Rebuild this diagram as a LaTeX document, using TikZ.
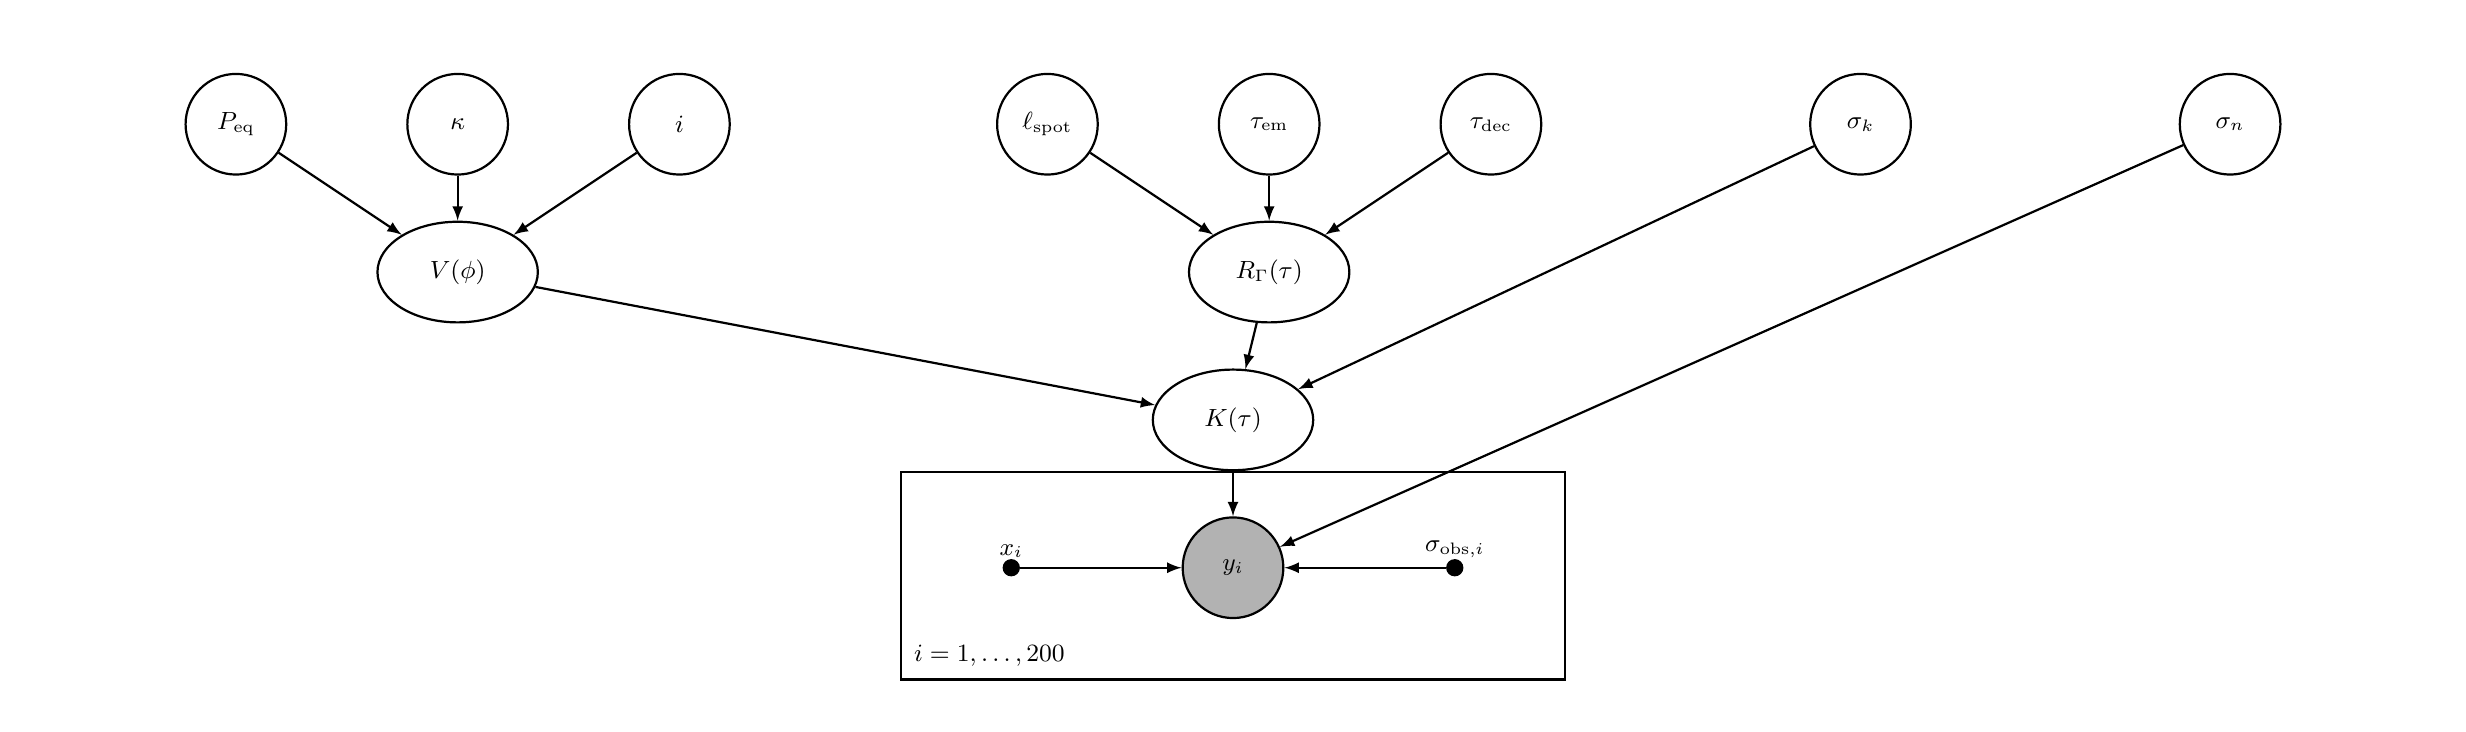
\documentclass[tikz,border=0pt]{standalone}
\usetikzlibrary{arrows,shapes,positioning,fit,calc}
\begin{document}
\begin{tikzpicture}[x=0.02cm,y=-0.02cm,
    latent/.style={circle,draw,thick,minimum size=1.28cm,inner sep=0pt,font=\small},
    detnode/.style={ellipse,draw,thick,minimum width=2.04cm,minimum height=1.28cm,inner sep=0pt,font=\small},
    obs/.style={latent,fill=black!30},
    const/.style={circle,fill=black,minimum size=0.22cm,inner sep=0pt},
    edge/.style={-latex,thick}]
    \useasboundingbox (0,0) rectangle (1568,465);
    % hyperparameters
    \node[latent] (peq) at (150,79) {$P_{\mathrm{eq}}$};
    \node[latent] (kappa) at (291,79) {$\kappa$};
    \node[latent] (incl) at (432,79) {$i$};
    \node[latent] (lspot) at (666,79) {$\ell_{\mathrm{spot}}$};
    \node[latent] (tauem) at (807,79) {$\tau_{\mathrm{em}}$};
    \node[latent] (taudec) at (948,79) {$\tau_{\mathrm{dec}}$};
    \node[latent] (sigk) at (1183,79) {$\sigma_k$};
    \node[latent] (sign) at (1418,79) {$\sigma_n$};
    % deterministic nodes
    \node[detnode] (vphi) at (291,173) {$V(\phi)$};
    \node[detnode] (rgam) at (807,173) {$R_\Gamma(\tau)$};
    \node[detnode] (ktau) at (784,267) {$K(\tau)$};
    % plate
    \node[obs] (y) at (784,361) {$y_i$};
    \node[const,label={[inner sep=0pt,font=\small]above:$x_i$}] (x) at (643,361) {};
    \node[const,label={[inner sep=0pt,font=\small]above:$\sigma_{\mathrm{obs},i}$}] (sobs) at (925,361) {};
    \draw[thick] (573,300) rectangle (995,432);
    \node[anchor=west,font=\small] (plate) at (575,417) {$i=1,\dots,200$};
    % edges
    \draw[edge] (peq) -- (vphi);
    \draw[edge] (kappa) -- (vphi);
    \draw[edge] (incl) -- (vphi);
    \draw[edge] (lspot) -- (rgam);
    \draw[edge] (tauem) -- (rgam);
    \draw[edge] (taudec) -- (rgam);
    \draw[edge] (vphi) -- (ktau);
    \draw[edge] (rgam) -- (ktau);
    \draw[edge] (sigk) -- (ktau);
    \draw[edge] (ktau) -- (y);
    \draw[edge] (sign) -- (y);
    \draw[edge] (x) -- (y);
    \draw[edge] (sobs) -- (y);
\end{tikzpicture}
\end{document}
